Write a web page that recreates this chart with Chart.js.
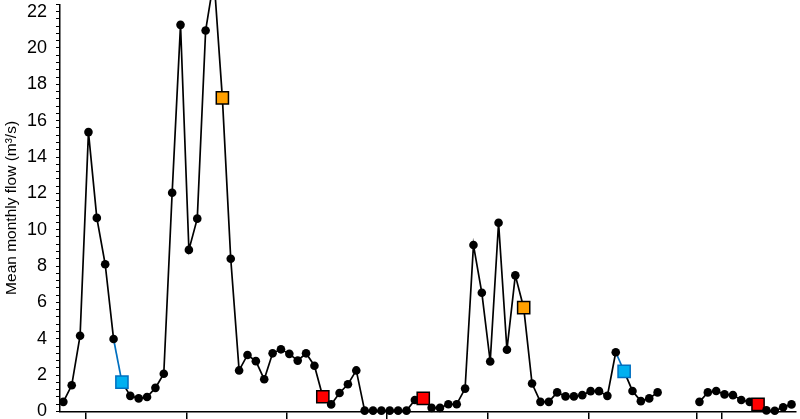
<!DOCTYPE html>
<html>
<head>
<meta charset="utf-8">
<script src="https://cdn.jsdelivr.net/npm/chart.js@4"></script>
<style>
  html, body { margin: 0; padding: 0; background: #fff; }
  #wrap { width: 800px; height: 419px; position: relative; }
</style>
</head>
<body>
<div id="wrap"><canvas id="chart"></canvas></div>
<script>
// monthly mean flow (m3/s), one value per month, null = no record
const flow = [
  0.53, 1.44, 4.17, 15.37, 10.65, 8.1, 3.99, 1.62, 0.86, 0.72, 0.8, 1.3,
  2.08, 12.03, 21.27, 8.89, 10.61, 20.96, 23.8, 17.25, 8.4, 2.26, 3.11, 2.77,
  1.77, 3.2, 3.42, 3.17, 2.8, 3.2, 2.52, 0.81, 0.39, 1.02, 1.5, 2.26,
  0.05, 0.05, 0.05, 0.05, 0.05, 0.05, 0.63, 0.72, 0.2, 0.2, 0.4, 0.4,
  1.26, 9.16, 6.53, 2.75, 10.38, 3.4, 7.49, 5.71, 1.54, 0.53, 0.53, 1.05,
  0.83, 0.83, 0.9, 1.12, 1.12, 0.86, 3.26, 2.21, 1.13, 0.57, 0.72, 1.05,
  null, null, null, null, 0.53, 1.05, 1.13, 0.94, 0.9, 0.63, 0.53, 0.39,
  0.06, 0.04, 0.23, 0.39
];
// months picked out with coloured squares
const blueMonths = [7, 67];
const orangeMonths = [19, 55];
const redMonths = [31, 43, 83];
// x axis tick positions (month index)
const xTicks = [2.71, 14.73, 26.66, 38.6, 50.71, 62.77, 75.7, 78.7];
const yLabelStep = 2;

const points = flow.map((v, i) => ({ x: i, y: v }));

function markFill(i) {
  if (blueMonths.includes(i)) return '#00b0f0';
  if (orangeMonths.includes(i)) return '#ffa000';
  if (redMonths.includes(i)) return '#ff0000';
  return '#000';
}
function markBorder(i) {
  if (blueMonths.includes(i)) return '#0070c0';
  return '#000';
}
function isSquare(i) {
  return blueMonths.includes(i) || orangeMonths.includes(i) || redMonths.includes(i);
}

const ctx = document.getElementById('chart').getContext('2d');
new Chart(ctx, {
  type: 'line',
  data: {
    datasets: [{
      data: points,
      borderColor: '#000',
      borderWidth: 1.7,
      spanGaps: false,
      clip: false,
      segment: {
        borderColor: c => blueMonths.includes(c.p1DataIndex) ? '#0070c0' : '#000'
      },
      pointStyle: c => isSquare(c.dataIndex) ? 'rect' : 'circle',
      pointRadius: c => isSquare(c.dataIndex) ? 8.6 : 4.3,
      pointBackgroundColor: c => markFill(c.dataIndex),
      pointBorderColor: c => markBorder(c.dataIndex),
      pointBorderWidth: c => isSquare(c.dataIndex) ? 1.5 : 0,
      tension: 0
    }]
  },
  options: {
    responsive: true,
    maintainAspectRatio: false,
    animation: false,
    layout: { padding: 0 },
    plugins: { legend: { display: false }, tooltip: { enabled: false } },
    scales: {
      x: {
        type: 'linear',
        min: -0.4,
        max: 87.5,
        afterBuildTicks: s => { s.ticks = xTicks.map(v => ({ value: v })); },
        afterFit: s => { s.height = 7.5; s.paddingLeft = 0; s.paddingRight = 0; },
        ticks: { display: false },
        grid: { drawOnChartArea: false, drawTicks: true, tickLength: 12, color: '#000', lineWidth: 1.5 },
        border: { color: '#000', width: 1.5 }
      },
      y: {
        min: 0,
        max: 22.4,
        afterFit: s => { s.width = 60; s.paddingTop = 0; s.paddingBottom = 0; },
        ticks: {
          stepSize: 0.4,
          autoSkip: false,
          color: '#000',
          padding: 9,
          font: { family: 'Liberation Sans, Arial, sans-serif', size: 18 },
          callback: v => Math.abs(v / yLabelStep - Math.round(v / yLabelStep)) < 1e-6 ? Math.round(v) : ''
        },
        grid: { drawOnChartArea: false, drawTicks: true, tickLength: 4, color: '#000', lineWidth: 1 },
        border: { color: '#000', width: 1.5 },
        title: {
          display: true,
          text: 'Mean monthly flow (m³/s)',
          color: '#000',
          padding: { top: 2, bottom: 0 },
          font: { family: 'Liberation Sans, Arial, sans-serif', size: 15.5 }
        }
      }
    }
  }
});
</script>
</body>
</html>
